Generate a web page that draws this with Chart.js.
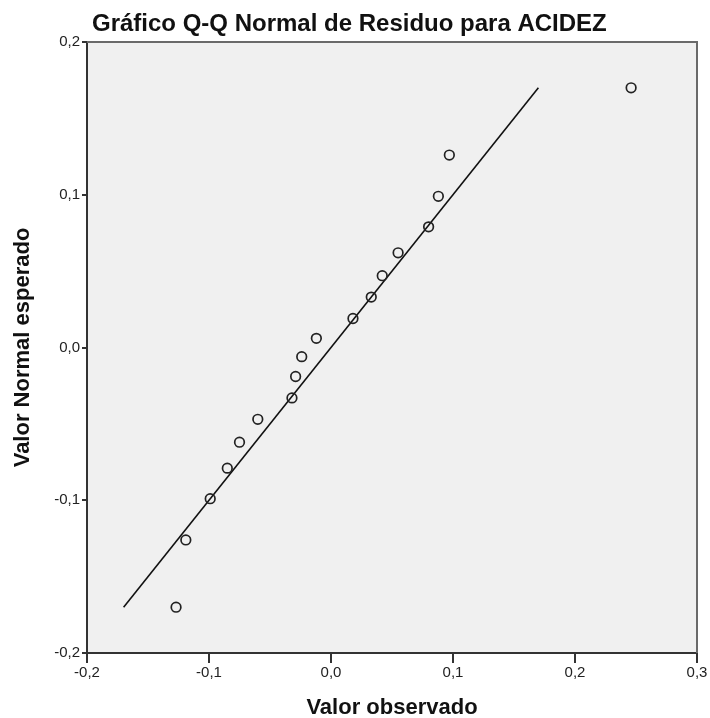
<!DOCTYPE html>
<html lang="es">
<head>
    <meta charset="UTF-8">
    <title>Gráfico Q-Q Normal de Residuo para ACIDEZ</title>
    <script src="https://cdn.jsdelivr.net/npm/chart.js"></script>
    <style>
        * {
            margin: 0;
            padding: 0;
            box-sizing: border-box;
        }

        body {
            background: #fff;
            width: 710px;
            height: 718px;
            overflow: hidden;
        }

        canvas {
            display: block;
        }
    </style>
</head>
<body>
    <canvas id="qqChart" width="710" height="718"></canvas>

    <script>
        const observed = [-0.127, -0.119, -0.099, -0.085, -0.075, -0.060, -0.032, -0.029, -0.024,
                          -0.012, 0.018, 0.033, 0.042, 0.055, 0.080, 0.088, 0.097, 0.246];
        const expected = [-0.170, -0.126, -0.099, -0.079, -0.062, -0.047, -0.033, -0.019, -0.006,
                          0.006, 0.019, 0.033, 0.047, 0.062, 0.079, 0.099, 0.126, 0.170];

        // Recta de referencia
        const refLineX = [-0.17, 0.17];
        const refLineY = [-0.17, 0.17];

        const xTicks = [-0.2, -0.1, 0.0, 0.1, 0.2, 0.3];
        const yTicks = [-0.2, -0.1, 0.0, 0.1, 0.2];

        const chartTitle = "Gráfico Q-Q Normal de Residuo para ACIDEZ";
        const xTitle = "Valor observado";
        const yTitle = "Valor Normal esperado";

        const FONT = "'Liberation Sans', Arial, sans-serif";
        const fmt = v => (Math.abs(v) < 1e-9 ? 0 : v).toFixed(1).replace('.', ',');

        // Fondo gris, marco superior/derecho y título (alineado como en SPSS)
        const plotFrame = {
            id: 'plotFrame',
            beforeDraw(chart) {
                const { ctx, chartArea: a } = chart;
                ctx.save();
                ctx.fillStyle = '#f0f0f0';
                ctx.fillRect(a.left, a.top, a.right - a.left, a.bottom - a.top);
                ctx.restore();
            },
            afterDraw(chart) {
                const { ctx, chartArea: a } = chart;
                ctx.save();
                ctx.strokeStyle = '#6a6a6a';
                ctx.lineWidth = 2;
                ctx.beginPath();
                ctx.moveTo(a.left, a.top);
                ctx.lineTo(a.right, a.top);
                ctx.lineTo(a.right, a.bottom);
                ctx.stroke();

                ctx.fillStyle = '#111';
                ctx.font = "bold 24px " + FONT;
                ctx.textAlign = 'left';
                ctx.textBaseline = 'alphabetic';
                ctx.fillText(chartTitle, 92, 31);
                ctx.restore();
            }
        };

        new Chart(document.getElementById("qqChart"), {
            type: 'scatter',
            data: {
                datasets: [
                    {
                        label: 'Residuos',
                        data: observed.map((x, i) => ({ x: x, y: expected[i] })),
                        pointStyle: 'circle',
                        pointRadius: 4.8,
                        pointBorderWidth: 1.7,
                        borderColor: '#222',
                        backgroundColor: 'rgba(0,0,0,0)',
                        order: 1
                    },
                    {
                        label: 'Recta',
                        type: 'line',
                        data: refLineX.map((x, i) => ({ x: x, y: refLineY[i] })),
                        borderColor: '#111',
                        borderWidth: 1.6,
                        pointRadius: 0,
                        fill: false,
                        order: 2
                    }
                ]
            },
            options: {
                responsive: false,
                animation: false,
                layout: {
                    padding: { left: 0, right: 13, top: 42, bottom: 0 }
                },
                plugins: {
                    legend: { display: false },
                    tooltip: { enabled: false },
                    title: { display: false }
                },
                scales: {
                    x: {
                        type: 'linear',
                        min: -0.2,
                        max: 0.3,
                        afterBuildTicks: s => { s.ticks = xTicks.map(v => ({ value: v })); },
                        afterFit: s => { s.height = 65; },
                        ticks: {
                            callback: fmt,
                            color: '#222',
                            font: { family: FONT, size: 15 },
                            padding: 1,
                            maxRotation: 0
                        },
                        grid: {
                            drawOnChartArea: false,
                            drawTicks: true,
                            tickLength: 10,
                            color: '#333',
                            lineWidth: 2
                        },
                        border: { display: true, color: '#333', width: 2 },
                        title: {
                            display: true,
                            text: xTitle,
                            color: '#111',
                            font: { family: FONT, size: 22, weight: 'bold', lineHeight: 0.9 },
                            padding: { top: 0, bottom: 0 }
                        }
                    },
                    y: {
                        type: 'linear',
                        min: -0.2,
                        max: 0.2,
                        afterBuildTicks: s => { s.ticks = yTicks.map(v => ({ value: v })); },
                        afterFit: s => { s.width = 87; },
                        ticks: {
                            callback: fmt,
                            color: '#222',
                            font: { family: FONT, size: 15 },
                            padding: 2
                        },
                        grid: {
                            drawOnChartArea: false,
                            drawTicks: true,
                            tickLength: 5,
                            color: '#333',
                            lineWidth: 2
                        },
                        border: { display: true, color: '#333', width: 2 },
                        title: {
                            display: true,
                            text: yTitle,
                            color: '#111',
                            font: { family: FONT, size: 22, weight: 'bold', lineHeight: 0.9 },
                            padding: { top: 13, bottom: 0 }
                        }
                    }
                }
            },
            plugins: [plotFrame]
        });
    </script>
</body>
</html>
